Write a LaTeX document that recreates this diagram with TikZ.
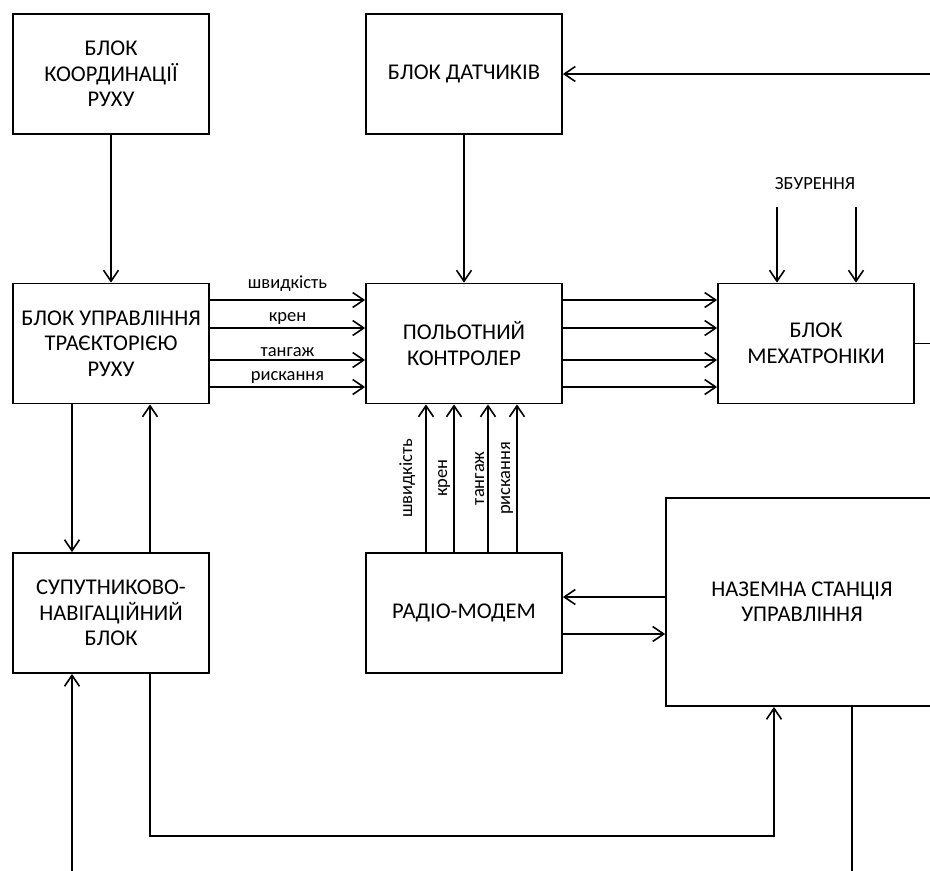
\documentclass[tikz,border=0pt]{standalone}
\usepackage{fontspec}
\setmainfont{Carlito}
\usetikzlibrary{arrows.meta}

\tikzset{
  blok/.style={draw, line width=1.8pt, minimum width=196pt, minimum height=120pt,
               inner sep=0pt, align=center, font=\fontsize{22.5}{25.5}\selectfont},
  lnk/.style={line width=1.6pt, -{Straight Barb[length=11pt,width=15pt]}},
  lin/.style={line width=1.6pt},
  mitka/.style={inner sep=1pt, font=\fontsize{18.5}{21}\selectfont}
}

\begin{document}
\begin{tikzpicture}[x=1pt,y=-1pt]

  % frame
  \clip (0,0) rectangle (930,871);
  \fill [white] (0,0) rectangle (930,871);

  % blocks
  \node [blok] (koord)  at (111,  74)    {БЛОК\\КООРДИНАЦІЇ\\РУХУ};
  \node [blok] (datch)  at (464,  74)    {БЛОК ДАТЧИКІВ};
  \node [blok] (upr)    at (111,  343.5) {БЛОК УПРАВЛІННЯ\\ТРАЄКТОРІЄЮ\\РУХУ};
  \node [blok] (polit)  at (464,  343.5) {ПОЛЬОТНИЙ\\КОНТРОЛЕР};
  \node [blok] (mech)   at (816,  343.5) {БЛОК\\МЕХАТРОНІКИ};
  \node [blok] (sup)    at (111,  613)   {СУПУТНИКОВО-\\НАВІГАЦІЙНИЙ\\БЛОК};
  \node [blok] (radio)  at (464,  613)   {РАДІО-МОДЕМ};
  \node [blok, minimum width=272pt, minimum height=208pt]
               (nazem)  at (802,  602)   {НАЗЕМНА СТАНЦІЯ\\УПРАВЛІННЯ};

  % disturbance
  \node [mitka] (zbur)  at (815,  184)   {ЗБУРЕННЯ};

  % free ends
  \coordinate (datchin)  at (930, 74);
  \coordinate (mechout)  at (930, 343.5);
  \coordinate (zb1)      at (777, 207);
  \coordinate (zb2)      at (856, 207);
  \coordinate (gpsin)    at (72,  871);
  \coordinate (nazemout) at (852, 871);
  \coordinate (bus)      at (450, 836);
  \coordinate (rx)       at (0,   597);
  \coordinate (tx)       at (0,   634);

  % vertical links
  \draw [lnk] (koord) -- (upr);
  \draw [lnk] (datch) -- (polit);
  \draw [lnk] (datchin) -- (datch.east);
  \draw [lnk] (zb1) -- (zb1 |- mech.north);
  \draw [lnk] (zb2) -- (zb2 |- mech.north);
  \draw [lin] (mech.east) -- (mechout);

  % trajectory <-> navigation
  \draw [lnk] ([xshift=-39]upr.south) -- ([xshift=-39]sup.north);
  \draw [lnk] ([xshift=39]sup.north)  -- ([xshift=39]upr.south);
  \draw [lnk] (gpsin) -- ([xshift=-39]sup.south);

  % control signals
  \foreach \y/\t/\d in {300/швидкість/7, 328/крен/2, 360/тангаж/2, 387/рискання/2}
    \draw [lnk] (upr.east |- 0,\y) -- node [mitka, above=\d pt] {\t} (polit.west |- 0,\y);
  \foreach \y in {300, 328, 360, 387}
    \draw [lnk] (polit.east |- 0,\y) -- (mech.west |- 0,\y);
  \foreach \x/\t/\d in {426/швидкість/9, 454/крен/2, 488/тангаж/2, 517/рискання/2}
    \draw [lnk] (radio.north -| \x,0) -- node [mitka, sloped, above=\d pt] {\t} (polit.south -| \x,0);

  % radio link
  \draw [lnk] (nazem.west |- rx) -- (radio.east |- rx);
  \draw [lnk] (radio.east |- tx) -- (nazem.west |- tx);

  % ground station loop
  \draw [lnk] ([xshift=39]sup.south) |- (bus) -| ([xshift=-28]nazem.south);
  \draw [lin] ([xshift=50]nazem.south) -- (nazemout);

\end{tikzpicture}
\end{document}
